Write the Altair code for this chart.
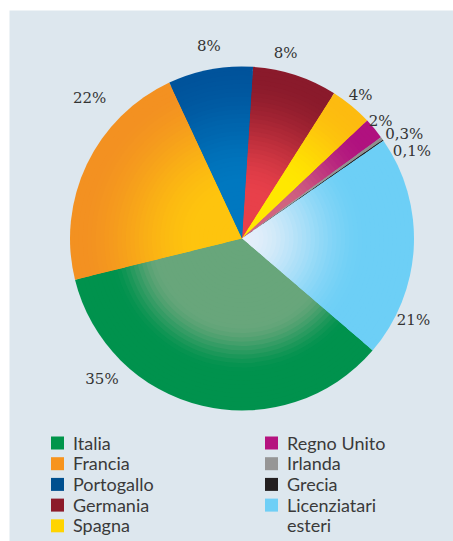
import math
import altair as alt
import pandas as pd

# ---- data (clockwise from the top) ----
categories = ["Germania", "Spagna", "Regno Unito", "Irlanda", "Grecia",
              "Licenziatari esteri", "Italia", "Francia", "Portogallo"]
values = [8, 4, 2, 0.3, 0.1, 21, 35, 22, 8]
labels = ["8%", "4%", "2%", "0,3%", "0,1%", "21%", "35%", "22%", "8%"]
# label placement (degrees clockwise from 12 o'clock, pixel distance from centre)
label_angle = [13.2, 39.6, 49.6, 57.2, 62.8, 115.5, 225.0, 312.6, 350.2]
label_radius = [191, 186, 182, 193, 191, 190, 198, 207, 195]

legend_order = ["Italia", "Francia", "Portogallo", "Germania", "Spagna",
                "Regno Unito", "Irlanda", "Grecia", "Licenziatari esteri"]
legend_text = ["Italia", "Francia", "Portogallo", "Germania", "Spagna",
               "Regno Unito", "Irlanda", "Grecia", "Licenziatari\nesteri"]

# ---- styles ----
legend_colors = {
    "Italia": "#00954a", "Francia": "#f7941d", "Portogallo": "#00508f",
    "Germania": "#8c1b2a", "Spagna": "#ffd400", "Regno Unito": "#b5137f",
    "Irlanda": "#969696", "Grecia": "#231f20", "Licenziatari esteri": "#6fcff6",
}
# inner colour, outer colour, gradient start, gradient end (fraction of radius)
gradients = {
    "Germania": ("#e8404a", "#8a1a2b", 0.25, 0.95),
    "Spagna": ("#ffe800", "#fdbb10", 0.40, 0.95),
    "Regno Unito": ("#d0647f", "#b0117f", 0.30, 0.90),
    "Irlanda": ("#a4a4a4", "#8f8f8f", 0.0, 1.0),
    "Grecia": ("#231f20", "#231f20", 0.0, 1.0),
    "Licenziatari esteri": ("#e6effa", "#6dcff6", 0.0, 0.72),
    "Italia": ("#68a67b", "#00924d", 0.50, 0.78),
    "Francia": ("#fec40e", "#f39121", 0.25, 0.95),
    "Portogallo": ("#0078c0", "#00539b", 0.30, 1.0),
}
N_RINGS = 40
START = math.radians(3.7)
CX, CY, R = 233, 228.5, 172


def hex2rgb(h):
    h = h.lstrip("#")
    return [int(h[i:i + 2], 16) for i in (0, 2, 4)]


def mix(a, b, t):
    ca, cb = hex2rgb(a), hex2rgb(b)
    return "#" + "".join(f"{round(x + (y - x) * t):02x}" for x, y in zip(ca, cb))


rows = []
for k in range(1, N_RINGS + 1):
    f = k / N_RINGS
    mid = (k - 0.5) / N_RINGS
    for i, (c, v) in enumerate(zip(categories, values)):
        inner, outer, s, e = gradients[c]
        t = 0.0 if e <= s else min(1.0, max(0.0, (mid - s) / (e - s)))
        t = t * t * (3 - 2 * t)
        rows.append({"cat": c, "order": i, "value": v, "ring": k, "rf": f,
                     "fill": mix(inner, outer, t)})
pie_df = pd.DataFrame(rows)

lab_df = pd.DataFrame({"label": labels, "ang": label_angle, "rad": label_radius})

leg_df = pd.DataFrame({
    "cat": legend_order,
    "text": legend_text,
    "col": [i // 5 for i in range(len(legend_order))],
    "row": [i % 5 for i in range(len(legend_order))],
})

pie = alt.Chart(pie_df).mark_arc().transform_joinaggregate(
    total="sum(value)", groupby=["ring"]
).transform_window(
    cum="sum(value)", groupby=["ring"], sort=[alt.SortField("order")]
).transform_calculate(
    t0="(datum.cum - datum.value) / datum.total",
    t1="datum.cum / datum.total",
).encode(
    theta=alt.Theta("t0:Q", scale=alt.Scale(domain=[0, 1], range=[START, START + 2 * math.pi]), stack=None),
    theta2="t1:Q",
    radius=alt.Radius("rf:Q", scale=alt.Scale(type="linear", domain=[0, 1], range=[0, R])),
    fill=alt.Fill("fill:N", scale=None),
    order=alt.Order("rf:Q", sort="descending"),
    x=alt.value(CX),
    y=alt.value(CY),
)

lab = alt.Chart(lab_df).mark_text(
    font="DejaVu Serif", fontSize=15, color="#333333"
).encode(
    theta=alt.Theta("ang:Q", scale=alt.Scale(domain=[0, 360], range=[0, 2 * math.pi]), stack=None),
    radius=alt.Radius("rad:Q", scale=alt.Scale(type="linear", domain=[0, R], range=[0, R])),
    text="label:N",
    x=alt.value(CX),
    y=alt.value(CY),
)

xs = alt.X("col:Q", scale=alt.Scale(domain=[0, 1], range=[48.5, 262.5]), axis=None)
ys = alt.Y("row:Q", scale=alt.Scale(domain=[0, 4], range=[433, 515.8]), axis=None)

leg_sq = alt.Chart(leg_df).mark_square(size=169, opacity=1).encode(
    x=xs, y=ys,
    color=alt.Color("cat:N", scale=alt.Scale(domain=legend_order,
                                             range=[legend_colors[c] for c in legend_order]),
                    legend=None),
)
leg_tx = alt.Chart(leg_df).mark_text(
    align="left", baseline="alphabetic", dx=15.5, dy=6.5, font="Lato", fontSize=18,
    color="#3a3a3a", lineBreak="\n", lineHeight=20.7,
).encode(x=xs, y=ys, text="text:N")

chart = alt.layer(pie, lab, leg_sq, leg_tx).resolve_scale(
    theta="independent", radius="independent"
).properties(
    width=444, height=531,
    padding={"left": 9, "top": 10, "right": 0, "bottom": 0},
    background="white",
    autosize=alt.AutoSizeParams(type="none"),
).configure_view(fill="#dde7ee", stroke="transparent")

chart.save("out.html", embed_options={"renderer": "svg", "actions": False})
